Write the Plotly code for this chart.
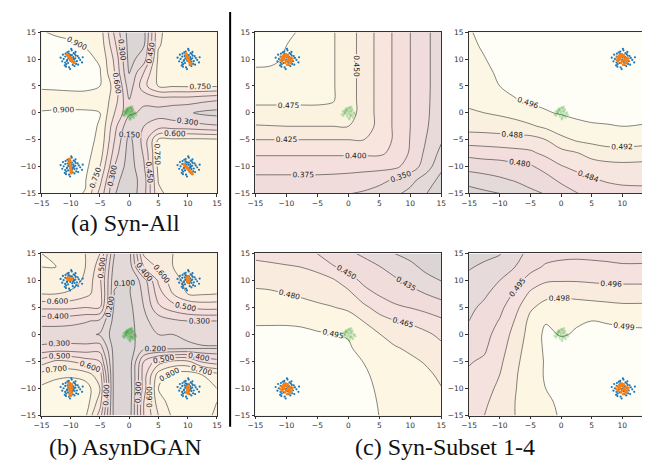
import plotly.graph_objects as go

# ---------------- data ----------------
GRID = [-15, -12.5, -10, -7.5, -5, -2.5, 0, 2.5, 5, 7.5, 10, 12.5, 15]
TICKS = [-15, -10, -5, 0, 5, 10, 15]

# rows listed from y=15 (top) down to y=-15; columns x=-15 .. 15
Z_SYN_ALL = [
    [0.905, 0.89, 0.88, 0.87, 0.83, 0.42, 0.08, 0.10, 0.73, 0.80, 0.82, 0.82, 0.81],
    [0.93, 0.925, 0.915, 0.895, 0.85, 0.49, 0.09, 0.14, 0.74, 0.81, 0.83, 0.83, 0.82],
    [0.94, 0.95, 0.95, 0.93, 0.885, 0.57, 0.10, 0.22, 0.78, 0.83, 0.85, 0.84, 0.83],
    [0.94, 0.95, 0.955, 0.94, 0.91, 0.60, 0.14, 0.45, 0.79, 0.84, 0.86, 0.85, 0.84],
    [0.91, 0.915, 0.92, 0.92, 0.90, 0.70, 0.21, 0.55, 0.76, 0.765, 0.77, 0.77, 0.765],
    [0.87, 0.865, 0.865, 0.865, 0.87, 0.68, 0.30, 0.33, 0.38, 0.38, 0.38, 0.35, 0.32],
    [0.905, 0.91, 0.91, 0.91, 0.90, 0.60, 0.33, 0.27, 0.24, 0.20, 0.17, 0.12, 0.10],
    [0.93, 0.94, 0.945, 0.94, 0.89, 0.50, 0.18, 0.30, 0.38, 0.38, 0.37, 0.34, 0.32],
    [0.95, 0.955, 0.96, 0.95, 0.87, 0.45, 0.10, 0.35, 0.77, 0.775, 0.78, 0.78, 0.77],
    [0.95, 0.96, 0.965, 0.95, 0.83, 0.38, 0.08, 0.32, 0.78, 0.82, 0.84, 0.83, 0.82],
    [0.95, 0.96, 0.97, 0.94, 0.75, 0.30, 0.07, 0.28, 0.79, 0.84, 0.86, 0.85, 0.83],
    [0.94, 0.95, 0.95, 0.91, 0.65, 0.20, 0.06, 0.22, 0.76, 0.83, 0.84, 0.84, 0.82],
    [0.92, 0.93, 0.92, 0.895, 0.55, 0.16, 0.05, 0.24, 0.72, 0.80, 0.82, 0.82, 0.80],
]

Z_ASYNDGAN = [
    [0.80, 0.79, 0.76, 0.70, 0.60, 0.20, 0.16, 0.62, 0.66, 0.70, 0.74, 0.75, 0.74],
    [0.80, 0.80, 0.77, 0.70, 0.55, 0.15, 0.14, 0.50, 0.62, 0.70, 0.75, 0.76, 0.75],
    [0.78, 0.78, 0.75, 0.68, 0.52, 0.12, 0.10, 0.25, 0.52, 0.66, 0.73, 0.74, 0.73],
    [0.70, 0.70, 0.68, 0.63, 0.55, 0.09, 0.09, 0.22, 0.45, 0.60, 0.70, 0.71, 0.70],
    [0.52, 0.52, 0.52, 0.50, 0.50, 0.07, 0.07, 0.20, 0.38, 0.45, 0.50, 0.53, 0.53],
    [0.34, 0.34, 0.33, 0.31, 0.28, 0.06, 0.06, 0.18, 0.24, 0.28, 0.30, 0.30, 0.30],
    [0.24, 0.24, 0.24, 0.23, 0.19, 0.05, 0.06, 0.16, 0.20, 0.20, 0.22, 0.24, 0.25],
    [0.32, 0.33, 0.33, 0.33, 0.35, 0.05, 0.05, 0.18, 0.18, 0.17, 0.18, 0.19, 0.19],
    [0.55, 0.62, 0.60, 0.55, 0.50, 0.05, 0.04, 0.40, 0.55, 0.62, 0.62, 0.48, 0.44],
    [0.74, 0.77, 0.78, 0.75, 0.65, 0.04, 0.04, 0.45, 0.75, 0.84, 0.86, 0.80, 0.74],
    [0.82, 0.86, 0.88, 0.86, 0.70, 0.04, 0.03, 0.45, 0.80, 0.86, 0.87, 0.84, 0.80],
    [0.84, 0.87, 0.88, 0.86, 0.65, 0.04, 0.03, 0.50, 0.75, 0.85, 0.86, 0.83, 0.80],
    [0.80, 0.84, 0.84, 0.82, 0.55, 0.05, 0.04, 0.50, 0.70, 0.82, 0.84, 0.82, 0.79],
]

Z_SUBSET1 = [
    [0.510, 0.506, 0.503, 0.498, 0.486, 0.477, 0.461, 0.440, 0.417, 0.396, 0.375, 0.354, 0.340],
    [0.507, 0.504, 0.500, 0.495, 0.486, 0.477, 0.461, 0.440, 0.417, 0.396, 0.375, 0.354, 0.340],
    [0.503, 0.502, 0.499, 0.495, 0.486, 0.477, 0.461, 0.440, 0.417, 0.396, 0.375, 0.354, 0.340],
    [0.498, 0.498, 0.497, 0.495, 0.486, 0.477, 0.461, 0.440, 0.417, 0.396, 0.375, 0.354, 0.340],
    [0.489, 0.489, 0.489, 0.489, 0.486, 0.477, 0.461, 0.440, 0.417, 0.396, 0.375, 0.354, 0.340],
    [0.480, 0.480, 0.480, 0.480, 0.480, 0.477, 0.461, 0.440, 0.417, 0.396, 0.375, 0.354, 0.339],
    [0.468, 0.468, 0.468, 0.468, 0.468, 0.468, 0.461, 0.440, 0.417, 0.396, 0.375, 0.354, 0.337],
    [0.448, 0.449, 0.450, 0.450, 0.450, 0.450, 0.450, 0.440, 0.417, 0.396, 0.375, 0.353, 0.334],
    [0.425, 0.425, 0.425, 0.425, 0.425, 0.425, 0.425, 0.425, 0.417, 0.396, 0.374, 0.350, 0.328],
    [0.404, 0.404, 0.404, 0.404, 0.404, 0.404, 0.404, 0.404, 0.404, 0.394, 0.372, 0.345, 0.318],
    [0.383, 0.383, 0.383, 0.383, 0.383, 0.383, 0.383, 0.383, 0.383, 0.380, 0.365, 0.338, 0.305],
    [0.370, 0.370, 0.370, 0.370, 0.370, 0.369, 0.367, 0.363, 0.357, 0.347, 0.333, 0.313, 0.293],
    [0.356, 0.356, 0.355, 0.355, 0.354, 0.353, 0.351, 0.347, 0.340, 0.330, 0.318, 0.301, 0.285],
]

Z_SUBSET2 = [
    [0.4958, 0.4966, 0.4974, 0.4976, 0.4977, 0.4978, 0.4978, 0.4978, 0.4978, 0.4978, 0.4978, 0.4978, 0.4978],
    [0.4955, 0.4963, 0.4972, 0.4975, 0.4976, 0.4977, 0.4978, 0.4978, 0.4978, 0.4978, 0.4978, 0.4978, 0.4978],
    [0.4950, 0.4959, 0.4968, 0.4973, 0.4975, 0.4976, 0.4977, 0.4978, 0.4978, 0.4978, 0.4978, 0.4978, 0.4978],
    [0.4945, 0.4953, 0.4965, 0.4970, 0.4973, 0.4974, 0.4975, 0.4976, 0.4977, 0.4977, 0.4977, 0.4977, 0.4977],
    [0.4940, 0.4945, 0.4960, 0.4966, 0.4969, 0.4971, 0.4972, 0.4974, 0.4975, 0.4975, 0.4975, 0.4975, 0.4975],
    [0.4930, 0.4933, 0.4945, 0.4959, 0.4965, 0.4966, 0.4968, 0.4970, 0.4972, 0.4972, 0.4972, 0.4972, 0.4972],
    [0.4915, 0.4920, 0.4926, 0.4934, 0.4948, 0.4958, 0.4962, 0.4966, 0.4968, 0.4970, 0.4970, 0.4970, 0.4969],
    [0.4895, 0.4897, 0.4899, 0.4905, 0.4914, 0.4928, 0.4947, 0.4953, 0.4957, 0.4958, 0.4960, 0.4959, 0.4956],
    [0.4860, 0.4861, 0.4864, 0.4866, 0.4865, 0.4880, 0.4907, 0.4925, 0.4931, 0.4937, 0.4937, 0.4936, 0.4932],
    [0.4813, 0.4818, 0.4821, 0.4826, 0.4833, 0.4849, 0.4867, 0.4877, 0.4896, 0.4904, 0.4905, 0.4903, 0.4900],
    [0.4773, 0.4778, 0.4781, 0.4789, 0.4795, 0.4815, 0.4837, 0.4851, 0.4859, 0.4866, 0.4869, 0.4868, 0.4866],
    [0.4738, 0.4745, 0.4754, 0.4763, 0.4773, 0.4785, 0.4808, 0.4822, 0.4836, 0.4844, 0.4848, 0.4849, 0.4849],
    [0.4700, 0.4712, 0.4720, 0.4735, 0.4752, 0.4762, 0.4778, 0.4798, 0.4812, 0.4822, 0.4827, 0.4828, 0.4829],
]

Z_SUBSET3 = [
    [0.4615, 0.4600, 0.4585, 0.4565, 0.4498, 0.4410, 0.4370, 0.4330, 0.4275, 0.4198, 0.4155, 0.4105, 0.4060],
    [0.4685, 0.4675, 0.4662, 0.4648, 0.4617, 0.4515, 0.4445, 0.4395, 0.4355, 0.4295, 0.4235, 0.4165, 0.4110],
    [0.4765, 0.4757, 0.4745, 0.4725, 0.4698, 0.4670, 0.4565, 0.4465, 0.4415, 0.4370, 0.4315, 0.4245, 0.4195],
    [0.4825, 0.4818, 0.4800, 0.4775, 0.4755, 0.4735, 0.4690, 0.4555, 0.4485, 0.4435, 0.4395, 0.4350, 0.4300],
    [0.4885, 0.4885, 0.4885, 0.4860, 0.4826, 0.4805, 0.4775, 0.4685, 0.4590, 0.4525, 0.4495, 0.4460, 0.4415],
    [0.4942, 0.4942, 0.4942, 0.4940, 0.4925, 0.4895, 0.4865, 0.4795, 0.4710, 0.4655, 0.4625, 0.4570, 0.4525],
    [0.4965, 0.4966, 0.4966, 0.4962, 0.4958, 0.4953, 0.4942, 0.4875, 0.4805, 0.4745, 0.4720, 0.4680, 0.4615],
    [0.4975, 0.4976, 0.4976, 0.4973, 0.4972, 0.4968, 0.4962, 0.4915, 0.4862, 0.4812, 0.4775, 0.4738, 0.4685],
    [0.4980, 0.4980, 0.4980, 0.4979, 0.4978, 0.4975, 0.4970, 0.4948, 0.4902, 0.4858, 0.4828, 0.4788, 0.4738],
    [0.4983, 0.4983, 0.4983, 0.4982, 0.4982, 0.4980, 0.4975, 0.4965, 0.4925, 0.4885, 0.4858, 0.4828, 0.4775],
    [0.4985, 0.4985, 0.4985, 0.4984, 0.4984, 0.4982, 0.4978, 0.4972, 0.4938, 0.4900, 0.4875, 0.4850, 0.4805],
    [0.4985, 0.4985, 0.4985, 0.4985, 0.4985, 0.4983, 0.4980, 0.4976, 0.4945, 0.4908, 0.4885, 0.4862, 0.4825],
    [0.4985, 0.4985, 0.4985, 0.4985, 0.4985, 0.4984, 0.4980, 0.4978, 0.4949, 0.4912, 0.4890, 0.4868, 0.4838],
]

Z_SUBSET4 = [
    [0.4914, 0.4917, 0.4919, 0.4929, 0.4940, 0.4944, 0.4946, 0.4947, 0.4947, 0.4947, 0.4947, 0.4947, 0.4947],
    [0.4919, 0.4922, 0.4927, 0.4935, 0.4945, 0.4952, 0.4954, 0.4954, 0.4953, 0.4952, 0.4951, 0.4951, 0.4951],
    [0.4923, 0.4928, 0.4935, 0.4944, 0.4956, 0.4963, 0.4964, 0.4964, 0.4963, 0.4962, 0.4962, 0.4962, 0.4962],
    [0.4927, 0.4933, 0.4941, 0.4952, 0.4968, 0.4976, 0.4977, 0.4976, 0.4975, 0.4974, 0.4973, 0.4973, 0.4973],
    [0.4932, 0.4938, 0.4946, 0.4960, 0.4978, 0.4985, 0.4987, 0.4986, 0.4985, 0.4984, 0.4983, 0.4983, 0.4983],
    [0.4935, 0.4942, 0.4951, 0.4966, 0.4984, 0.4994, 0.4993, 0.4994, 0.4995, 0.4994, 0.4993, 0.4993, 0.4993],
    [0.4939, 0.4945, 0.4956, 0.4970, 0.4986, 0.4998, 0.4994, 0.4996, 0.4998, 0.4999, 0.4998, 0.4997, 0.4997],
    [0.4944, 0.4948, 0.4959, 0.4973, 0.4988, 0.4997, 0.5001, 0.5001, 0.5002, 0.5002, 0.5001, 0.5001, 0.5000],
    [0.4949, 0.4952, 0.4962, 0.4976, 0.4989, 0.4996, 0.5001, 0.5002, 0.5003, 0.5003, 0.5003, 0.5002, 0.5001],
    [0.4952, 0.4956, 0.4965, 0.4978, 0.4990, 0.4996, 0.5000, 0.5002, 0.5003, 0.5004, 0.5004, 0.5003, 0.5002],
    [0.4955, 0.4960, 0.4968, 0.4979, 0.4990, 0.4995, 0.4999, 0.5002, 0.5003, 0.5004, 0.5004, 0.5003, 0.5002],
    [0.4958, 0.4963, 0.4970, 0.4980, 0.4990, 0.4993, 0.4997, 0.5001, 0.5003, 0.5003, 0.5003, 0.5003, 0.5002],
    [0.4960, 0.4965, 0.4972, 0.4980, 0.4990, 0.4992, 0.4996, 0.5001, 0.5002, 0.5003, 0.5003, 0.5002, 0.5002],
]

# contour levels (start, end, step) and colour range per panel
LEVELS = {
    "a": (0.15, 0.90, 0.15, 0.0, 1.05),
    "b": (0.10, 0.90, 0.10, 0.0, 1.0),
    "c1": (0.300, 0.500, 0.025, 0.275, 0.525),
    "c2": (0.472, 0.496, 0.004, 0.468, 0.500),
    "c3": (0.420, 0.495, 0.015, 0.405, 0.510),
    "c4": (0.4920, 0.4995, 0.0015, 0.4905, 0.5010),
}

CORNERS = [(-10, 10), (10, 10), (-10, -10), (10, -10)]

BLUE_DX = [0.12, -0.45, 0.78, -0.93, 0.35, -0.18, 1.05, -0.62, 0.51, -1.21, 0.27, 0.86, -0.34, -0.77, 0.64,
           1.38, -0.05, -1.45, 0.93, -0.52, 0.18, -0.88, 1.62, 0.44, -0.28, 0.71, -1.02, 0.03, 1.18, -0.66,
           0.39, -0.11, -1.73, 0.82, -0.41, 1.94, -0.24, 0.57, -0.95, 0.09, 1.27, -0.58, 0.66, -1.33, 0.21,
           -0.07, 2.05, -0.81, 0.47, -0.36]
BLUE_DY = [0.31, -0.72, 0.15, 0.48, -1.06, 0.84, -0.37, -0.19, 1.12, 0.05, -0.53, 0.66, 1.41, -0.94, -1.28,
           0.22, -0.08, -0.41, -0.88, 0.57, 1.65, 1.02, -0.15, 0.39, -1.52, 0.95, -1.17, 0.71, 0.58, -0.33,
           -0.26, -1.85, 0.28, 1.34, 0.12, -0.61, 0.43, -0.02, -0.64, 1.9, -1.03, 1.27, -0.47, 0.83, 0.76,
           -0.29, 0.35, -1.41, 0.03, 0.97]

GREEN_DX = [0.05, -0.32, 0.41, -0.58, 0.22, 0.67, -0.15, 0.33, -0.71, 0.48, -0.06, 0.84, -0.44, 0.17, -0.25,
            0.59, -0.89, 0.11, 0.36, -0.52, 0.95, -0.12, 0.27, -0.38, 0.74, -0.63, 0.02, -1.05, 0.46, -0.21,
            1.12, 0.14, -0.47, 0.61, -0.83, 0.29]
GREEN_DY = [0.12, 0.45, -0.28, 0.09, 0.63, -0.51, -0.74, 0.31, -0.22, 0.18, 0.88, -0.12, 0.52, -0.95, -0.37,
            0.71, 0.24, 1.02, -0.61, -0.08, 0.05, 0.34, -0.43, 0.79, -0.86, 0.41, -0.18, -0.29, 1.15, 0.61,
            -0.33, -1.2, 0.07, 0.48, -0.55, 0.93]

ORANGE_DX = [0.21, -0.38, 0.55, -0.12, 0.09, -0.66, 0.43, -0.27, 0.72, -0.49, 0.15, 0.31, -0.83, 0.04, 0.62,
             -0.21, -0.57, 0.88, -0.05, 0.36, -0.74, 0.27, -0.33, 0.49, 1.02, -0.95, 0.12, -0.16, 0.58, -0.42]
ORANGE_DY = [-0.15, 0.32, 0.08, -0.54, 0.61, 0.19, -0.36, 0.77, -0.62, -0.08, 0.44, -0.91, 0.35, -0.27, 0.26,
             -0.73, 0.57, -0.21, 0.93, 0.02, -0.45, 0.68, -0.04, -0.33, 0.15, -0.12, -1.05, 0.51, -0.78, 0.86]

# generated samples of panel (a): thin streaks near each mode
ORANGE_A_X = [-10.6, -10.45, -10.35, -10.2, -10.1, -9.95, -9.85, -9.7, -9.6, -9.45,
              9.7, 9.8, 9.9, 9.95, 10.05, 10.15, 10.25, 10.35, 10.45, 10.55,
              -10.2, -10.15, -10.15, -10.1, -10.05, -10.05, -10.0, -9.95, -9.95, -9.9,
              9.4, 9.55, 9.7, 9.85, 10.0, 10.15, 10.3, 10.45, 10.6, 10.8]
ORANGE_A_Y = [10.9, 10.7, 10.55, 10.4, 10.2, 10.05, 9.85, 9.7, 9.5, 9.35,
              11.0, 10.8, 10.55, 10.35, 10.1, 9.9, 9.7, 9.45, 9.25, 9.05,
              -8.6, -8.9, -9.2, -9.5, -9.8, -10.1, -10.4, -10.7, -10.95, -11.2,
              -9.6, -9.8, -10.0, -10.2, -10.4, -10.55, -10.75, -10.95, -11.1, -11.35]
# generated samples of panel (b): compact blobs
ORANGE_B_X = [-10.6, -10.4, -10.2, -10.0, -9.8, -10.3, -10.5, -10.1, -9.9, -10.35,
              10.0, 10.1, 10.2, 10.0, 10.15, 10.05, 10.2, 9.95, 10.1, 10.25,
              -10.2, -9.9, -10.1, -9.8, -10.2, -10.0, -9.85, -10.15, -10.0, -9.9, -10.25, -10.05,
              10.1, 9.95, 10.2, 10.0, 10.1, 9.9, 10.15, 10.05]
ORANGE_B_Y = [10.4, 10.2, 10.5, 10.3, 10.4, 10.1, 10.5, 10.2, 10.25, 10.35,
              10.6, 10.4, 10.2, 10.0, 9.8, 9.6, 9.9, 10.3, 9.7, 10.1,
              -9.0, -9.3, -9.6, -9.9, -10.2, -10.5, -10.8, -11.0, -11.3, -10.1, -9.6, -9.8,
              -9.5, -9.8, -10.0, -10.2, -10.5, -10.7, -9.7, -10.9]

# which real mode each Syn-Subset panel holds
SUBSET_MODE = {"c1": (-10, 10), "c2": (10, 10), "c3": (-10, -10), "c4": (10, -10)}

# ---------------- styling ----------------
CS = [[0.0, "#dcd5d5"], [0.15, "#e5dada"], [0.3, "#eedbdb"], [0.45, "#f4dfdd"],
      [0.6, "#f8e8df"], [0.75, "#fbf2df"], [0.9, "#fdf9e6"], [1.0, "#fffef6"]]
BLUE, ORANGE, GREEN = "#1f77b4", "#ff7f0e", "#2ca02c"
SERIF = "Liberation Serif, Times New Roman, Times, serif"
W, H = 650, 464

XD_A = [26 / W, 205 / W]
XD_M = [244.3 / W, 434 / W]
XD_R = [462.3 / W, 1.0]
YD_T = [1 - 185 / H, 1 - 20.7 / H]
YD_B = [1 - 411.5 / H, 1 - 246.2 / H]

PANELS = [
    ("a", Z_SYN_ALL, XD_A, YD_T),
    ("b", Z_ASYNDGAN, XD_A, YD_B),
    ("c1", Z_SUBSET1, XD_M, YD_T),
    ("c2", Z_SUBSET2, XD_R, YD_T),
    ("c3", Z_SUBSET3, XD_M, YD_B),
    ("c4", Z_SUBSET4, XD_R, YD_B),
]

fig = go.Figure()
layout = {}


def pts(trace_x, trace_y, color, size, opacity, xa, ya):
    fig.add_trace(go.Scatter(x=trace_x, y=trace_y, mode="markers", xaxis=xa, yaxis=ya,
                             marker=dict(color=color, size=size, opacity=opacity, line=dict(width=0)),
                             hoverinfo="skip", showlegend=False))


for i, (key, z, xd, yd) in enumerate(PANELS):
    n = "" if i == 0 else str(i + 1)
    xa, ya = "x" + n, "y" + n
    s, e, step, zmin, zmax = LEVELS[key]
    fig.add_trace(go.Contour(
        x=GRID, y=GRID, z=z[::-1], xaxis=xa, yaxis=ya,
        colorscale=CS, zmin=zmin, zmax=zmax, zauto=False, showscale=False,
        contours=dict(start=s, end=e + step * 0.01, size=step, coloring="fill", showlabels=True,
                      labelfont=dict(size=7.5, color="#222", family="DejaVu Sans"), labelformat=".3f"),
        line=dict(color="rgba(0,0,0,0.6)", width=0.8, smoothing=1.0),
        hoverinfo="skip"))

    if key in ("a", "b"):
        modes = CORNERS
    else:
        modes = [SUBSET_MODE[key]]
    bx, by = [], []
    for cx, cy in modes:
        bx += [cx + d for d in BLUE_DX]
        by += [cy + d for d in BLUE_DY]
    if key in ("a", "b"):
        pts(GREEN_DX, GREEN_DY, GREEN, 3, 0.35, xa, ya)
        pts(bx, by, BLUE, 2.2, 1.0, xa, ya)
        if key == "a":
            pts(ORANGE_A_X, ORANGE_A_Y, ORANGE, 3.2, 1.0, xa, ya)
        else:
            pts(ORANGE_B_X, ORANGE_B_Y, ORANGE, 3.2, 1.0, xa, ya)
    else:
        pts(GREEN_DX, GREEN_DY, GREEN, 2.5, 0.25, xa, ya)
        pts(bx, by, BLUE, 2.2, 1.0, xa, ya)
        cx, cy = SUBSET_MODE[key]
        pts([cx + d for d in ORANGE_DX], [cy + d for d in ORANGE_DY], ORANGE, 2.4, 1.0, xa, ya)

    ax_common = dict(range=[-15, 15], tickvals=TICKS, ticks="outside", ticklen=3, tickwidth=0.8,
                     tickcolor="#333", showline=True, linecolor="#333", linewidth=0.8, mirror=True,
                     showgrid=False, zeroline=False,
                     tickfont=dict(size=7.5, family="DejaVu Sans", color="#333"))
    layout["xaxis" + n] = dict(domain=xd, anchor=ya, **ax_common)
    layout["yaxis" + n] = dict(domain=yd, anchor=xa, **ax_common)

CAPTIONS = [("(a) Syn-All", 112, 215), ("(b) AsynDGAN", 112, 444), ("(c) Syn-Subset 1-4", 438, 444)]
annotations = [dict(text=t, x=cx / W, y=1 - cy / H, xref="paper", yref="paper", showarrow=False,
                    xanchor="center", yanchor="middle",
                    font=dict(family=SERIF, size=24, color="#111"))
               for t, cx, cy in CAPTIONS]

fig.update_layout(
    width=W, height=H, margin=dict(l=0, r=0, t=0, b=0),
    paper_bgcolor="white", plot_bgcolor="white", showlegend=False,
    annotations=annotations,
    shapes=[dict(type="line", xref="paper", yref="paper", x0=218.5 / W, x1=218.5 / W,
                 y0=1.0, y1=1 - 423 / H, line=dict(color="black", width=2))],
    **layout)

fig.write_html("out.html")
